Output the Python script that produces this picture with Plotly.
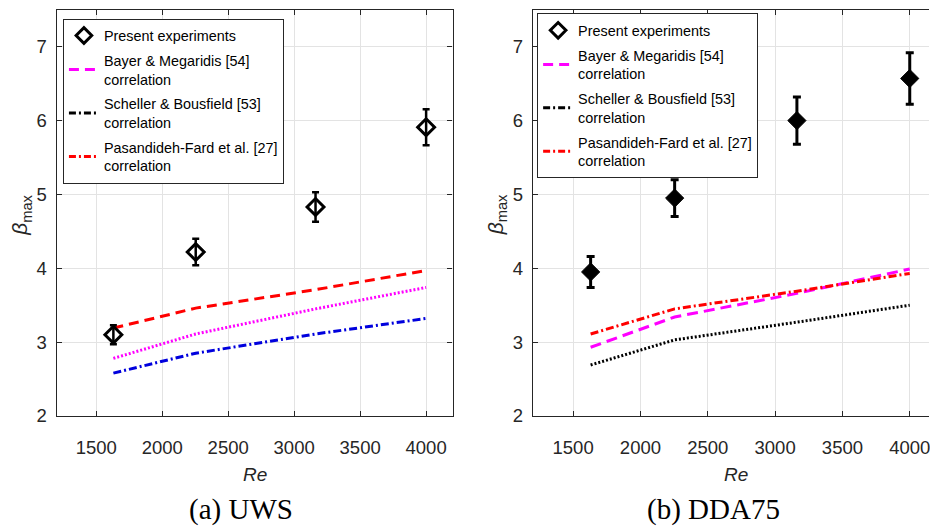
import plotly.graph_objects as go

# ---- data -------------------------------------------------------------
re_vals = [1630, 2254, 3162, 4000]

# (a) UWS
uws_exp = [3.10, 4.22, 4.83, 5.91]
uws_err = [0.13, 0.18, 0.20, 0.245]
uws_pasandideh = [3.19, 3.46, 3.71, 3.97]
uws_bayer = [2.78, 3.11, 3.45, 3.74]
uws_scheller = [2.58, 2.85, 3.11, 3.32]

# (b) DDA75
dda_exp = [3.95, 4.95, 6.00, 6.57]
dda_err = [0.21, 0.25, 0.32, 0.35]
dda_pasandideh = [3.11, 3.45, 3.69, 3.93]
dda_bayer = [2.93, 3.34, 3.66, 3.99]
dda_scheller = [2.69, 3.03, 3.27, 3.50]

legend_names = [
    "Present experiments",
    "Bayer & Megaridis [54]<br>correlation",
    "Scheller & Bousfield [53]<br>correlation",
    "Pasandideh-Fard et al. [27]<br>correlation",
]
x_ticks = [1500, 2000, 2500, 3000, 3500, 4000]
y_ticks = [2, 3, 4, 5, 6, 7]
captions = ["(a) UWS", "(b) DDA75"]

# ---- layout helpers -------------------------------------------------------
W, H = 930, 527
FONT = "Liberation Sans, Arial, sans-serif"
AX = "#262626"
GRID = "#e3e3e3"
MAGENTA = "#ff00ff"
RED = "#ff0000"
BLUE = "#0000dd"


def px(x):
    return x / W


def py(y):
    return 1 - y / H


fig = go.Figure()

# ---- panel (a) ----------------------------------------------------------
fig.add_trace(go.Scatter(
    x=re_vals, y=uws_pasandideh, mode="lines", showlegend=False,
    line=dict(color=RED, width=3, dash="10px,6px"),
    xaxis="x", yaxis="y"))
fig.add_trace(go.Scatter(
    x=re_vals, y=uws_bayer, mode="lines", showlegend=False,
    line=dict(color=MAGENTA, width=3, dash="2px,2px"),
    xaxis="x", yaxis="y"))
fig.add_trace(go.Scatter(
    x=re_vals, y=uws_scheller, mode="lines", showlegend=False,
    line=dict(color=BLUE, width=3, dash="8px,3px,2px,3px"),
    xaxis="x", yaxis="y"))
fig.add_trace(go.Scatter(
    x=re_vals, y=uws_exp, mode="markers", showlegend=False,
    marker=dict(symbol="diamond-open", size=13, color="black",
                line=dict(width=3, color="black")),
    error_y=dict(type="data", array=uws_err, color="black",
                 thickness=2.5, width=3.5),
    xaxis="x", yaxis="y"))

# ---- panel (b) ----------------------------------------------------------
fig.add_trace(go.Scatter(
    x=re_vals, y=dda_scheller, mode="lines", showlegend=False,
    line=dict(color="black", width=3, dash="2px,2px"),
    xaxis="x2", yaxis="y2"))
fig.add_trace(go.Scatter(
    x=re_vals, y=dda_bayer, mode="lines", showlegend=False,
    line=dict(color=MAGENTA, width=3, dash="11px,6px"),
    xaxis="x2", yaxis="y2"))
fig.add_trace(go.Scatter(
    x=re_vals, y=dda_pasandideh, mode="lines", showlegend=False,
    line=dict(color=RED, width=3, dash="8px,3px,2px,3px"),
    xaxis="x2", yaxis="y2"))
fig.add_trace(go.Scatter(
    x=re_vals, y=dda_exp, mode="markers", showlegend=False,
    marker=dict(symbol="diamond", size=14, color="black",
                line=dict(width=1, color="black")),
    error_y=dict(type="data", array=dda_err, color="black",
                 thickness=3, width=4),
    xaxis="x2", yaxis="y2"))

# ---- legend entries (same key in both panels) ----------------------------
for leg, xa, ya in (("legend", "x", "y"), ("legend2", "x2", "y2")):
    fig.add_trace(go.Scatter(
        x=[None], y=[None], mode="markers", name=legend_names[0],
        legend=leg, legendgroup=leg + "a", xaxis=xa, yaxis=ya,
        marker=dict(symbol="diamond-open", size=12, color="black",
                    line=dict(width=3, color="black"))))
    fig.add_trace(go.Scatter(
        x=[None], y=[None], mode="lines", name=legend_names[1],
        legend=leg, legendgroup=leg + "b", xaxis=xa, yaxis=ya,
        line=dict(color=MAGENTA, width=3, dash="10px,6px")))
    fig.add_trace(go.Scatter(
        x=[None], y=[None], mode="lines", name=legend_names[2],
        legend=leg, legendgroup=leg + "c", xaxis=xa, yaxis=ya,
        line=dict(color="black", width=3, dash="7px,3px,2px,3px")))
    fig.add_trace(go.Scatter(
        x=[None], y=[None], mode="lines", name=legend_names[3],
        legend=leg, legendgroup=leg + "d", xaxis=xa, yaxis=ya,
        line=dict(color=RED, width=3, dash="7px,3px,2px,3px")))

legend_style = dict(
    bgcolor="white", bordercolor=AX, borderwidth=1,
    font=dict(family=FONT, size=14.4, color="black"),
    xanchor="left", yanchor="top", traceorder="grouped",
    tracegroupgap=3, itemwidth=30,
)

axis_common = dict(
    showgrid=True, gridcolor=GRID, gridwidth=1,
    showline=True, linecolor=AX, linewidth=1.2,
    ticks="inside", ticklen=5, tickcolor=AX,
    tickfont=dict(family=FONT, size=18.5, color=AX),
    zeroline=False, ticklabeloverflow="allow",
)

y_dom = [py(424), py(10)]

fig.update_layout(
    width=W, height=H,
    margin=dict(l=0, r=0, t=0, b=0),
    paper_bgcolor="white", plot_bgcolor="white",
    xaxis=dict(domain=[px(56.7), px(453)], range=[1200, 4200],
               tickvals=x_ticks, mirror="ticks", anchor="y",
               ticklabelstandoff=15, **axis_common),
    yaxis=dict(domain=y_dom, range=[2, 7.5], tickvals=y_ticks,
               mirror="ticks", anchor="x", ticklabelstandoff=5,
               **axis_common),
    xaxis2=dict(domain=[px(533.3), 1.0], range=[1200, 4143],
                tickvals=x_ticks, mirror="ticks", anchor="y2",
                ticklabelstandoff=15, **axis_common),
    yaxis2=dict(domain=y_dom, range=[2, 7.5], tickvals=y_ticks,
                mirror=False, anchor="x2", ticklabelstandoff=5,
                **axis_common),
    legend=dict(x=px(63), y=py(19), **legend_style),
    legend2=dict(x=px(537.7), y=py(13.7), **legend_style),
    showlegend=True,
)

# ---- axis titles and captions -------------------------------------------
ann = []
centre = dict(xref="paper", yref="paper", showarrow=False,
              xanchor="center", yanchor="middle")
for cx in (21, 497):
    ann.append(dict(
        x=px(cx), y=py(219), text="<i>β</i><sub>max</sub>", textangle=-90,
        font=dict(family=FONT, size=21, color=AX), **centre))
for cx in (255, 737):
    ann.append(dict(
        x=px(cx), y=py(484), text="<i>Re</i>",
        font=dict(family=FONT, size=19, color=AX), **centre))
for cx, cap in zip((241, 714), captions):
    ann.append(dict(
        x=px(cx), y=py(519), text=cap,
        font=dict(family="Liberation Serif, DejaVu Serif, serif", size=29,
                  color="black"), **centre))
fig.update_layout(annotations=ann)

fig.write_html("out.html")
